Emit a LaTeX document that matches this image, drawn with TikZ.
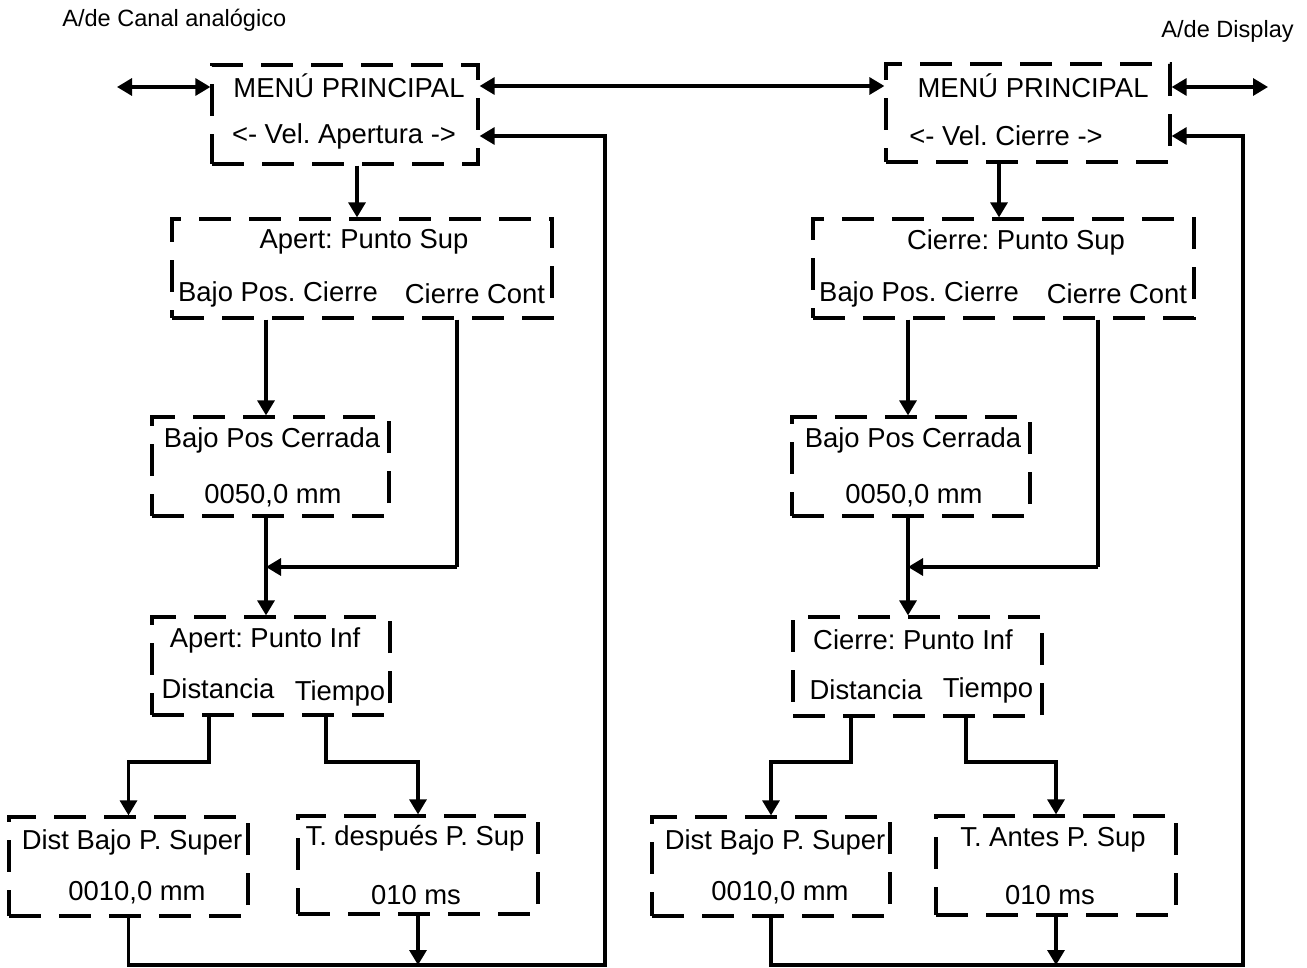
\documentclass[tikz,border=0pt]{standalone}
\usepackage{fontspec}
\setmainfont{Liberation Sans}
\frenchspacing
\usetikzlibrary{arrows.meta, positioning, fit}

\begin{document}
\begin{tikzpicture}[
  x=0.2mm, y=-0.2mm,
  font=\fontsize{15.6}{18}\selectfont,
  menubox/.style={draw, line width=0.65mm, dash pattern=on 6.4mm off 3.6mm,
                  inner sep=0pt},
  txt/.style={inner sep=0pt},
  note/.style={inner sep=0pt, font=\fontsize{13.4}{16}\selectfont},
  conn/.style={line width=0.65mm},
  arrow/.style={conn, -{Triangle[length=3mm, width=3.4mm]}},
  dblarrow/.style={conn, {Triangle[length=3mm, width=3.4mm]}-{Triangle[length=3mm, width=3.4mm]}}
]
\useasboundingbox (0,0) rectangle (1307,967);

% ---------------- Notes ----------------
\node[note, anchor=west] (canal) at (62,20) {A/de Canal analógico};
\node[note, anchor=east] (disp)  at (1294,31) {A/de Display};

% ---------------- Apertura: boxes ----------------
\node[menubox, fit={(212,65) (478,164)}]  (apmenu) {};
\node[menubox, fit={(172,219) (552,318)}] (apsup)  {};
\node[menubox, fit={(152,417) (389,516)}] (apcerr) {};
\node[menubox, fit={(152,617) (390,715)}] (apinf)  {};
\node[menubox, fit={(9,817) (248,916)}]   (apdist) {};
\node[menubox, fit={(298,816) (538,914)}] (aptiem) {};

% Apertura: texts
\node[txt] (aptit)  at (349,86)  {MENÚ PRINCIPAL};
\node[txt] (apvel)  at (344,136) {<- Vel. Apertura ->};
\node[txt] (apsupt) at (364,242) {Apert: Punto Sup};
\node[txt] (apbajo) at (278,294) {Bajo Pos. Cierre};
\node[txt] (apcont) at (475,294) {Cierre Cont};
\node[txt] (apcert) at (272,440) {Bajo Pos Cerrada};
\node[txt] (apcerv) at (273,496) {0050,0 mm};
\node[txt] (apinft) at (265,640) {Apert: Punto Inf};
\node[txt] (apdis)  at (218,689) {Distancia};
\node[txt] (aptie)  at (340,693) {Tiempo};
\node[txt] (apdistt) at (132,842) {Dist Bajo P. Super};
\node[txt] (apdistv) at (137,893) {0010,0 mm};
\node[txt] (aptiemt) at (415,838) {T. después P. Sup};
\node[txt] (aptiemv) at (416,895) {010 ms};

% ---------------- Cierre: boxes ----------------
\node[menubox, fit={(886,64) (1170,162)}]  (cimenu) {};
\node[menubox, fit={(813,219) (1194,318)}] (cisup)  {};
\node[menubox, fit={(792,417) (1030,516)}] (cicerr) {};
\node[menubox, fit={(793,617) (1042,716)}] (ciinf)  {};
\node[menubox, fit={(652,817) (890,916)}]  (cidist) {};
\node[menubox, fit={(936,816) (1176,915)}] (citiem) {};

% Cierre: texts
\node[txt] (citit)  at (1033,86)  {MENÚ PRINCIPAL};
\node[txt] (civel)  at (1006,136) {<- Vel. Cierre ->};
\node[txt] (cisupt) at (1016,242) {Cierre: Punto Sup};
\node[txt] (cibajo) at (919,294)  {Bajo Pos. Cierre};
\node[txt] (cicont) at (1117,294) {Cierre Cont};
\node[txt] (cicert) at (913,440)  {Bajo Pos Cerrada};
\node[txt] (cicerv) at (914,496)  {0050,0 mm};
\node[txt] (ciinft) at (913,640)  {Cierre: Punto Inf};
\node[txt] (cidis)  at (866,690)  {Distancia};
\node[txt] (citie)  at (988,690)  {Tiempo};
\node[txt] (cidistt) at (775,842) {Dist Bajo P. Super};
\node[txt] (cidistv) at (780,893) {0010,0 mm};
\node[txt] (citiemt) at (1053,840) {T. Antes P. Sup};
\node[txt] (citiemv) at (1050,895) {010 ms};

% ---------------- Guides ----------------
\coordinate (apin)   at (117,87);
\coordinate (apdrop) at (357,0);
\coordinate (apjoin) at (266,567);
\coordinate (apturn) at (457,567);
\coordinate (apdl)   at (209,762);
\coordinate (apdr)   at (326,762);
\coordinate (aploop) at (605,965);

\coordinate (ciout)  at (1268,87);
\coordinate (cidrop) at (999,0);
\coordinate (cijoin) at (908,567);
\coordinate (citurn) at (1098,567);
\coordinate (cidl)   at (851,762);
\coordinate (cidr)   at (966,762);
\coordinate (ciloop) at (1243,965);

% ---------------- Arrows: menu ----------------
\draw[dblarrow] (apin) -- (apin -| apmenu.west);
\draw[dblarrow] (aptit -| apmenu.east) -- (aptit -| cimenu.west);
\draw[dblarrow] (ciout -| cimenu.east) -- (ciout);

% ---------------- Arrows: Apertura ----------------
\draw[arrow] (apdrop |- apmenu.south) -- (apdrop |- apsup.north);
\draw[arrow] (apjoin |- apsup.south) -- (apjoin |- apcerr.north);
\draw[conn]  (apturn |- apsup.south) -- (apturn);
\draw[arrow] (apturn) -- (apjoin);
\draw[arrow] (apjoin |- apcerr.south) -- (apjoin |- apinf.north);
\draw[arrow] (apdl |- apinf.south) -- (apdl) -| (apdist.north);
\draw[arrow] (apdr |- apinf.south) -- (apdr) -| (aptiem.north);
\draw[arrow] (apdist.south) |- (aploop) |- (apvel -| apmenu.east);
\draw[arrow] (aptiem.south) -- (aptiem.south |- aploop);

% ---------------- Arrows: Cierre ----------------
\draw[arrow] (cidrop |- cimenu.south) -- (cidrop |- cisup.north);
\draw[arrow] (cijoin |- cisup.south) -- (cijoin |- cicerr.north);
\draw[conn]  (citurn |- cisup.south) -- (citurn);
\draw[arrow] (citurn) -- (cijoin);
\draw[arrow] (cijoin |- cicerr.south) -- (cijoin |- ciinf.north);
\draw[arrow] (cidl |- ciinf.south) -- (cidl) -| (cidist.north);
\draw[arrow] (cidr |- ciinf.south) -- (cidr) -| (citiem.north);
\draw[arrow] (cidist.south) |- (ciloop) |- (civel -| cimenu.east);
\draw[arrow] (citiem.south) -- (citiem.south |- ciloop);

\end{tikzpicture}
\end{document}
